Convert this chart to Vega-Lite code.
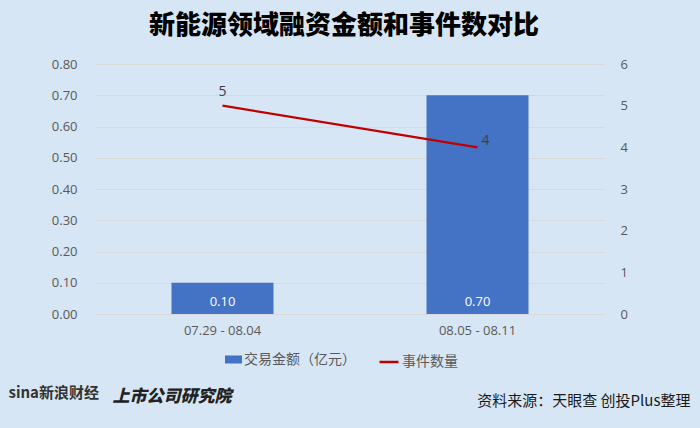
{
  "$schema": "https://vega.github.io/schema/vega-lite/v6.json",
  "width": 510,
  "height": 250,
  "autosize": {"type": "none"},
  "padding": {"left": 95, "top": 64, "right": 95, "bottom": 114},
  "background": "#d6e6f5",
  "config": {"view": {"stroke": null}, "font": "Open Sans"},
  "title": {
    "text": "新能源领域融资金额和事件数对比",
    "font": "Noto Sans CJK SC",
    "fontSize": 26,
    "fontWeight": 900,
    "color": "#000000",
    "anchor": "middle",
    "frame": "group",
    "offset": 19,
    "dx": -6
  },
  "data": {
    "values": [
      {"period": "07.29 - 08.04", "amount": 0.10, "count": 5},
      {"period": "08.05 - 08.11", "amount": 0.70, "count": 4}
    ]
  },
  "encoding": {
    "x": {
      "field": "period",
      "type": "nominal",
      "sort": null,
      "scale": {"paddingInner": 0.6, "paddingOuter": 0.3},
      "axis": {
        "labelAngle": 0,
        "labelFontSize": 13,
        "labelColor": "#595959",
        "labelPadding": 10,
        "ticks": false,
        "tickSize": 0,
        "domain": false,
        "grid": false,
        "title": "资料来源：天眼查 创投Plus整理",
        "titleX": 595,
        "titleY": 86,
        "titleAlign": "right",
        "titleBaseline": "middle",
        "titleFont": "Noto Sans CJK SC",
        "titleFontSize": 15,
        "titleFontWeight": "normal",
        "titleColor": "#1a1a1a"
      }
    }
  },
  "layer": [
    {
      "encoding": {
        "y": {
          "field": "amount",
          "type": "quantitative",
          "scale": {"domain": [0, 0.8]},
          "axis": {
            "orient": "left",
            "values": [0, 0.1, 0.2, 0.3, 0.4, 0.5, 0.6, 0.7, 0.8],
            "format": ".2f",
            "grid": true,
            "gridColor": "#d9d9d9",
            "gridWidth": 1,
            "domain": false,
            "ticks": false,
            "tickSize": 0,
            "labelPadding": 18,
            "labelColor": "#595959",
            "labelFontSize": 13,
            "title": "sina新浪财经",
            "titleAngle": 0,
            "titleX": -87,
            "titleY": 328,
            "titleAlign": "left",
            "titleBaseline": "middle",
            "titleFont": "Noto Sans CJK SC",
            "titleFontSize": 15,
            "titleFontWeight": "bold",
            "titleColor": "#333333"
          }
        }
      },
      "layer": [
        {
          "mark": {"type": "bar"},
          "encoding": {
            "fill": {
              "datum": "交易金额（亿元）",
              "type": "nominal",
              "scale": {"range": ["#4472c4"]},
              "legend": {
                "orient": "none",
                "legendX": 130,
                "legendY": 287,
                "title": null,
                "padding": 0,
                "symbolType": "M-1,-0.47H1V0.47H-1Z",
                "symbolSize": 289,
                "symbolStrokeWidth": 0,
                "labelFont": "Noto Sans CJK SC",
                "labelFontSize": 14,
                "labelColor": "#595959",
                "labelOffset": 2
              }
            }
          }
        },
        {
          "mark": {"type": "text", "color": "#ffffff", "fontSize": 13, "baseline": "alphabetic", "dy": -8},
          "encoding": {
            "y": {"datum": 0, "type": "quantitative"},
            "text": {"field": "amount", "type": "quantitative", "format": ".2f"}
          }
        }
      ]
    },
    {
      "encoding": {
        "y": {
          "field": "count",
          "type": "quantitative",
          "scale": {"domain": [0, 6]},
          "axis": {
            "orient": "right",
            "values": [0, 1, 2, 3, 4, 5, 6],
            "format": "d",
            "grid": false,
            "domain": false,
            "ticks": false,
            "tickSize": 0,
            "labelPadding": 15,
            "labelColor": "#595959",
            "labelFontSize": 13,
            "title": "上市公司研究院",
            "titleAngle": 0,
            "titleX": -493,
            "titleY": 332,
            "titleAlign": "left",
            "titleBaseline": "middle",
            "titleFont": "Noto Sans CJK SC",
            "titleFontSize": 17,
            "titleFontWeight": 900,
            "titleFontStyle": "italic",
            "titleColor": "#222222"
          }
        }
      },
      "layer": [
        {
          "mark": {"type": "line", "strokeWidth": 2.25},
          "encoding": {
            "stroke": {
              "datum": "事件数量",
              "type": "nominal",
              "scale": {"range": ["#c00000"]},
              "legend": {
                "orient": "none",
                "legendX": 283,
                "legendY": 287,
                "title": null,
                "padding": 0,
                "symbolType": "stroke",
                "symbolSize": 361,
                "symbolStrokeWidth": 2.5,
                "labelFont": "Noto Sans CJK SC",
                "labelFontSize": 14,
                "labelColor": "#595959",
                "labelOffset": 2
              }
            }
          }
        },
        {
          "transform": [{"filter": "datum.period === '07.29 - 08.04'"}],
          "mark": {"type": "text", "color": "#404040", "fontSize": 14, "align": "center", "baseline": "alphabetic", "dy": -10},
          "encoding": {"text": {"field": "count", "type": "quantitative"}}
        },
        {
          "transform": [{"filter": "datum.period === '08.05 - 08.11'"}],
          "mark": {"type": "text", "color": "#404040", "fontSize": 14, "align": "left", "baseline": "alphabetic", "dx": 4, "dy": -2},
          "encoding": {"text": {"field": "count", "type": "quantitative"}}
        }
      ]
    }
  ],
  "resolve": {"scale": {"y": "independent"}}
}
